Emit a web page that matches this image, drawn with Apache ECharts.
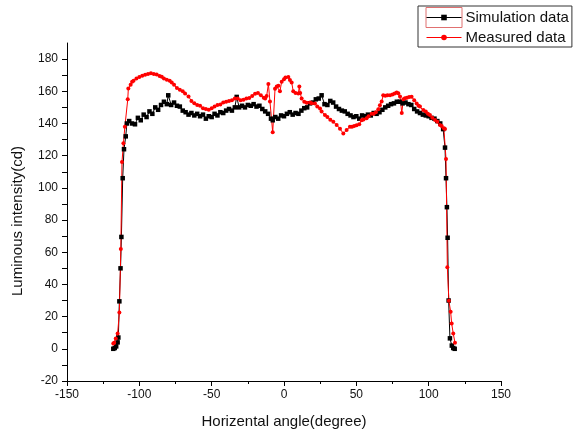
<!DOCTYPE html>
<html>
<head>
<meta charset="utf-8">
<script src="https://cdn.jsdelivr.net/npm/echarts@6/dist/echarts.min.js"></script>
<style>
html,body{margin:0;padding:0;background:#fff;}
#chart{width:581px;height:435px;}
</style>
</head>
<body>
<div id="chart"></div>
<script>
// Simulation data (angle in degrees, luminous intensity in cd)
var simAngle = [-118,-117,-116,-115,-114.5,-113.8,-113,-112.4,-111.5,-110.6,-109.4,-108.6,-107,-105,-103,-101,-99,-97,-95,-93,-91,-89,-87,-85,-83,-81,-80,-78,-76,-74,-72,-70,-68,-66,-64,-62,-60,-58,-56,-54,-52,-50,-48,-46,-44,-42,-40,-38,-36,-34,-32.7,-31,-29,-27,-25,-23,-21,-19,-17,-15,-13,-11,-9,-7.8,-6,-4,-2,0,2,4,6,8,10,12,14,16,18,20,22,24,26,28,30,32,34,36,38,40,42,44,46,48,50,52,54,56,58,60,62,64,66,68,70,72,74,76,78,80,82,84,86,88,90,92,94,96,98,100,102,104,106,108,110,111.3,112,112.6,113.1,113.8,114.7,116,117,118];
var simValue = [0,0.5,1.5,4,7,29.5,50,69.5,106,124,132,140,141.5,140,139.5,143.5,142,145.5,144,147.5,146,150,148.5,151.5,153.5,152,157.5,151.5,153,151,150.5,148,147,145.5,146.5,145,146,144.5,145.5,143,144.5,144,146,145,147,146.5,148,149,148,150,156.5,150,151,150,151.5,151,152,150.5,151,149,147.5,146,143,142,144,143,145,144.5,146,147,145.5,146.5,146,148,149.5,150,152.5,153,155,155.5,157.5,152,151.5,154,153,150.5,149,148,147.5,146,145,144,144.5,143,145,144.5,145.5,145,146.5,146,147,148.5,150,151,152,152.5,153.5,153.5,152.5,153,152,151.5,149,147.5,146.5,145.5,145,144.5,143.5,143,141.5,140,136.5,125,106,88,69,30,6.5,2,0.5,0];

// Measured data
var meaAngle = [-118,-117.4,-116.3,-115,-113.8,-112.8,-112,-111,-110,-108,-107.6,-106,-105,-104,-102,-100,-98,-96,-94,-92,-90,-88,-86,-84.5,-83,-81,-79,-77.6,-76,-74,-72,-70,-68.4,-66,-64,-62,-60,-58,-56,-54,-52,-50,-48,-46,-44,-42,-40,-38,-36,-34,-32,-30,-28,-26,-24,-22,-20,-18,-16,-14,-13,-12,-10.8,-9.7,-7.8,-6.2,-5,-3.9,-2.8,-1.6,0,1,3,4.1,5.3,6.4,8,9.9,10.6,11.2,12.2,14,15.7,18,19.1,21.4,23,24.9,26,28.3,30,32,34.1,36.4,38.7,41,43.3,45.6,47,48.5,50.2,52,53.7,55,57.1,58.5,60.6,62,63.5,65.2,66.3,67.5,68.6,70,71.5,73.3,75,76.5,77.9,79,80.2,81.4,82.5,83.6,85,86.5,88.2,90,91.7,93,94,96.3,98,99.5,100.9,102.5,104.4,106,107.8,109,110.5,111.3,112,112.9,114,115.2,115.9,117,118.2];
var meaValue = [3.3,3.7,6.4,9.5,22.5,62,116,127.7,138,155,161.7,164,166,166.5,168,168.8,169.6,170.3,170.8,171.2,170.7,170.5,169.5,169,168,167.2,166.5,165.5,164,162,161,160,158.6,156.8,154,152.5,151.5,151,149.5,149,148.5,149.5,150.5,151.5,151.8,153,153.5,154,154.5,155.5,155.5,154.5,154.7,155.5,155.8,157,158.5,159,157.5,156,155.5,157,164.5,153.6,134.5,161.5,163,163.5,160,166,167.5,168.5,168.8,167,165.5,160,159,158.6,163,158.9,155.5,153.5,152.8,153,152.6,152.4,150.5,149.3,147.4,145.2,144,142.3,141,139.1,136.8,133.7,136,137.9,138,138.5,138.9,139.5,142,142.5,143.3,144.5,146,146,147,148.8,151.4,153.6,157.6,157.2,157.6,157.6,158,158.6,159.2,158.8,156.7,146.5,155,155.6,156,156.5,156.6,154.5,152.4,151,150.5,148.3,147.5,146,145.3,143.5,142.1,141,139,138.5,137,136.5,118,50.6,29.8,23,15.7,9.5,3.7];

var yTicks = [-20,-10,0,10,20,30,40,50,60,70,80,90,100,110,120,130,140,150,160,170,180];
var yLabels = [-20,0,20,40,60,80,100,120,140,160,180];

function pairs(xs, ys){ return xs.map(function(x,i){ return [x, ys[i]]; }); }

var chart = echarts.init(document.getElementById('chart'), null, {renderer:'canvas'});
var font = '"Liberation Sans", Arial, sans-serif';
chart.setOption({
  animation: false,
  backgroundColor: '#fff',
  textStyle: {fontFamily: font},
  grid: {left: 67, right: 80, top: 43, bottom: 54, containLabel: false},
  legend: {
    orient: 'vertical',
    left: 418, top: 6,
    padding: [4, 3, 2, 8],
    itemGap: 5,
    itemWidth: 35,
    itemHeight: 7,
    borderColor: '#333',
    borderWidth: 1,
    lineStyle: {width: 1},
    textStyle: {fontFamily: font, fontSize: 15, color: '#111', padding: [0,0,0,-1]},
    data: ['Simulation data', 'Measured data']
  },
  graphic: [{
    type: 'rect',
    shape: {x: 426, y: 7.5, width: 36, height: 20},
    style: {fill: 'none', stroke: '#e07070', lineWidth: 1},
    silent: true
  }],
  xAxis: {
    type: 'value', min: -150, max: 150, interval: 50,
    name: 'Horizental angle(degree)', nameLocation: 'middle', nameGap: 33,
    nameTextStyle: {fontFamily: font, fontSize: 15, color: '#111'},
    axisLine: {onZero: false, lineStyle: {color: '#000', width: 1}},
    axisTick: {show: true, length: 5, lineStyle: {color: '#000'}},
    minorTick: {show: true, splitNumber: 2, length: 3, lineStyle: {color: '#000'}},
    axisLabel: {fontFamily: font, fontSize: 12, color: '#111', margin: 8},
    splitLine: {show: false}
  },
  yAxis: {
    type: 'value', min: -20, max: 190, interval: 20,
    name: 'Luminous intensity(cd)', nameLocation: 'middle', nameGap: 42,
    nameTextStyle: {fontFamily: font, fontSize: 15, color: '#111', padding: [0, 18, 0, 0]},
    axisLine: {show: true, onZero: false, lineStyle: {color: '#000', width: 1}},
    axisTick: {show: true, length: 5, customValues: yTicks, lineStyle: {color: '#000'}},
    axisLabel: {fontFamily: font, fontSize: 12, color: '#111', margin: 9, customValues: yLabels},
    splitLine: {show: false}
  },
  series: [{
    name: 'Simulation data',
    type: 'line',
    data: pairs(simAngle, simValue),
    color: '#000',
    symbol: 'rect', symbolSize: 4.5, showSymbol: true,
    lineStyle: {color: '#000', width: 1},
    itemStyle: {color: '#000'}
  }, {
    name: 'Measured data',
    type: 'line',
    data: pairs(meaAngle, meaValue),
    color: '#ff0000',
    symbol: 'circle', symbolSize: 4, showSymbol: true,
    lineStyle: {color: '#ff0000', width: 1},
    itemStyle: {color: '#ff0000'}
  }]
});
</script>
</body>
</html>
